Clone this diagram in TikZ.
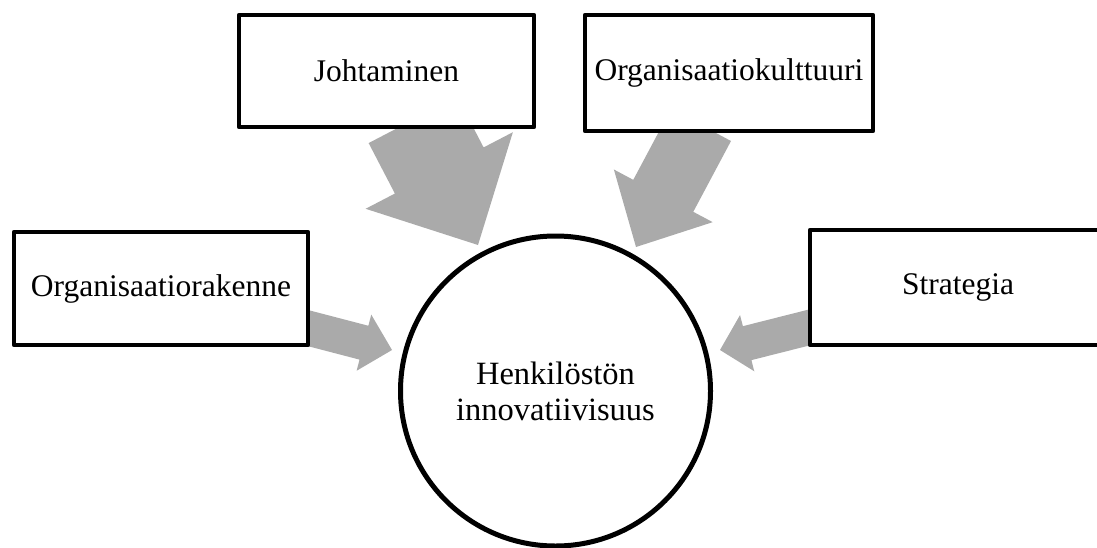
\documentclass[tikz,border=0pt]{standalone}
\usepackage{fontspec}
\setmainfont{Liberation Serif}
\usetikzlibrary{calc}
\definecolor{nuoliharmaa}{RGB}{170,170,170}
% #1 tail, #2 tip, #3 half shaft, #4 half head, #5 head length
\newcommand{\isonuoli}[5]{%
	\fill[nuoliharmaa] ($(#1)!#3!90:(#2)$)--($(#2)!#5!(#1)!#3!-90:(#1)$)--($(#2)!#5!(#1)!#4!-90:(#1)$)
	--(#2)--($(#2)!#5!(#1)!#4!90:(#1)$)--($(#2)!#5!(#1)!#3!90:(#1)$)--($(#1)!#3!-90:(#2)$)--cycle;}
\begin{document}
\begin{tikzpicture}[x=1pt,y=-1pt, line join=round, font=\fontsize{31.5}{36}\selectfont,
	tekija/.style={draw,line width=4.5pt,fill=white,inner sep=0pt},
	keski/.style={draw,circle,line width=5pt,fill=white,align=center,inner sep=0pt,minimum size=310pt,
		font=\fontsize{32.5}{36}\selectfont}]
			\useasboundingbox (0,0) rectangle (1097,547);
			% nuolet
			\coordinate (joh-a) at (413,120); \coordinate (joh-b) at (478,245);
			\coordinate (kul-a) at (701,125); \coordinate (kul-b) at (636,247);
			\coordinate (rak-a) at (300,326); \coordinate (rak-b) at (392,350);
			\coordinate (str-a) at (815,326); \coordinate (str-b) at (720,350);
			\isonuoli{joh-a}{joh-b}{50pt}{83pt}{84pt}
			\isonuoli{kul-a}{kul-b}{34pt}{56pt}{58pt}
			\isonuoli{rak-a}{rak-b}{17.5pt}{29pt}{29pt}
			\isonuoli{str-a}{str-b}{17.5pt}{29pt}{28pt}
			% laatikot
			\node[tekija,minimum width=295pt,minimum height=112pt] (joh) at (386.5,71) {Johtaminen};
			\node[tekija,minimum width=288pt,minimum height=116pt] (kul) at (729,73) {Organisaatiokulttuuri};
			\node[tekija,minimum width=294pt,minimum height=113pt] (rak) at (161,288.5) {Organisaatiorakenne};
			\node[tekija,minimum width=296pt,minimum height=115pt] (str) at (958,287.5) {Strategia};
			\node[keski] (inno) at (555.5,391) {Henkilöstön\\innovatiivisuus};
		\end{tikzpicture}
\end{document}
